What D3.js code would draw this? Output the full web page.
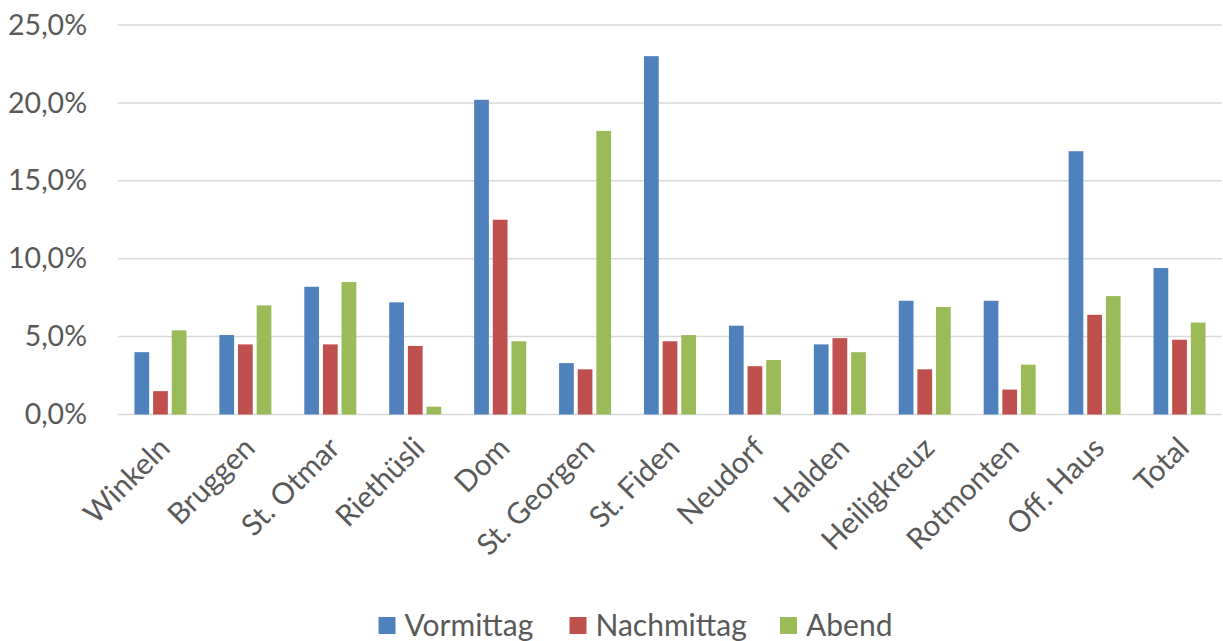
<!DOCTYPE html>
<html>
<head>
<meta charset="utf-8">
<script src="https://cdn.jsdelivr.net/npm/d3@7"></script>
<style>
  html, body { margin: 0; padding: 0; background: #fff; }
  svg text { font-family: Lato, "Open Sans", sans-serif; fill: #595959; }
</style>
</head>
<body>
<svg id="chart" width="1223" height="641"></svg>
<script>
const categories = ["Winkeln","Bruggen","St. Otmar","Riethüsli","Dom","St. Georgen","St. Fiden","Neudorf","Halden","Heiligkreuz","Rotmonten","Off. Haus","Total"];
const seriesNames = ["Vormittag","Nachmittag","Abend"];
const vormittag  = [4.0, 5.1, 8.2, 7.2, 20.2, 3.3, 23.0, 5.7, 4.5, 7.3, 7.3, 16.9, 9.4];
const nachmittag = [1.5, 4.5, 4.5, 4.4, 12.5, 2.9, 4.7, 3.1, 4.9, 2.9, 1.6, 6.4, 4.8];
const abend      = [5.4, 7.0, 8.5, 0.5, 4.7, 18.2, 5.1, 3.5, 4.0, 6.9, 3.2, 7.6, 5.9];
const yTicks = [0, 5, 10, 15, 20, 25];
const colors = ["#4f81bd", "#c0504d", "#9bbb59"];

const seriesValues = [vormittag, nachmittag, abend];

const svg = d3.select("#chart");
const plot = { left: 118, right: 1222, top: 25, bottom: 414.5 };

const x = d3.scaleBand().domain(categories).range([plot.left, plot.right]).padding(0);
const y = d3.scaleLinear().domain([0, 25]).range([plot.bottom, plot.top]);

const groupW = 52;
const xs = d3.scaleBand().domain(seriesNames)
  .range([(x.bandwidth() - groupW) / 2, (x.bandwidth() + groupW) / 2])
  .paddingInner(0.21).paddingOuter(0);

// gridlines
svg.append("g").selectAll("line").data(yTicks).join("line")
  .attr("x1", plot.left).attr("x2", plot.right)
  .attr("y1", d => y(d)).attr("y2", d => y(d))
  .attr("stroke", "#d9d9d9").attr("stroke-width", 1.5);

// y axis labels
const yAxis = d3.axisLeft(y).tickValues(yTicks).tickSize(0).tickPadding(31)
  .tickFormat(d => d.toFixed(1).replace(".", ",") + "%");
const yg = svg.append("g").attr("transform", `translate(${plot.left},0)`).call(yAxis);
yg.select(".domain").remove();
yg.selectAll("text").style("font-size", "28.5px").attr("fill", "#595959").style("font-family", "Lato, sans-serif");

// bars
const data = [];
categories.forEach((c, i) => seriesNames.forEach((s, j) => data.push({ c, s, j, v: seriesValues[j][i] })));
svg.append("g").selectAll("rect").data(data).join("rect")
  .attr("x", d => x(d.c) + xs(d.s))
  .attr("width", xs.bandwidth())
  .attr("y", d => y(d.v))
  .attr("height", d => y(0) - y(d.v))
  .attr("fill", d => colors[d.j]);

// x axis labels
const xAxis = d3.axisBottom(x).tickSize(0).tickPadding(0);
const xg = svg.append("g").attr("transform", `translate(0,${plot.bottom})`).call(xAxis);
xg.select(".domain").remove();
xg.selectAll(".tick text")
  .style("font-size", "29.5px").style("font-family", "Lato, sans-serif").attr("fill", "#595959")
  .attr("text-anchor", "end")
  .attr("y", 0).attr("dy", "0.35em")
  .attr("transform", "translate(4,28) rotate(-45)");

// legend
const legendX = [378.5, 569.5, 780];
const lg = svg.append("g").selectAll("g").data(seriesNames).join("g")
  .attr("transform", (d, i) => `translate(${legendX[i]},617)`);
lg.append("rect").attr("width", 17).attr("height", 17).attr("fill", (d, i) => colors[i]);
lg.append("text").attr("x", 26).attr("y", 8.5).attr("dy", "0.36em")
  .style("font-size", "30px").text(d => d);
</script>
</body>
</html>
